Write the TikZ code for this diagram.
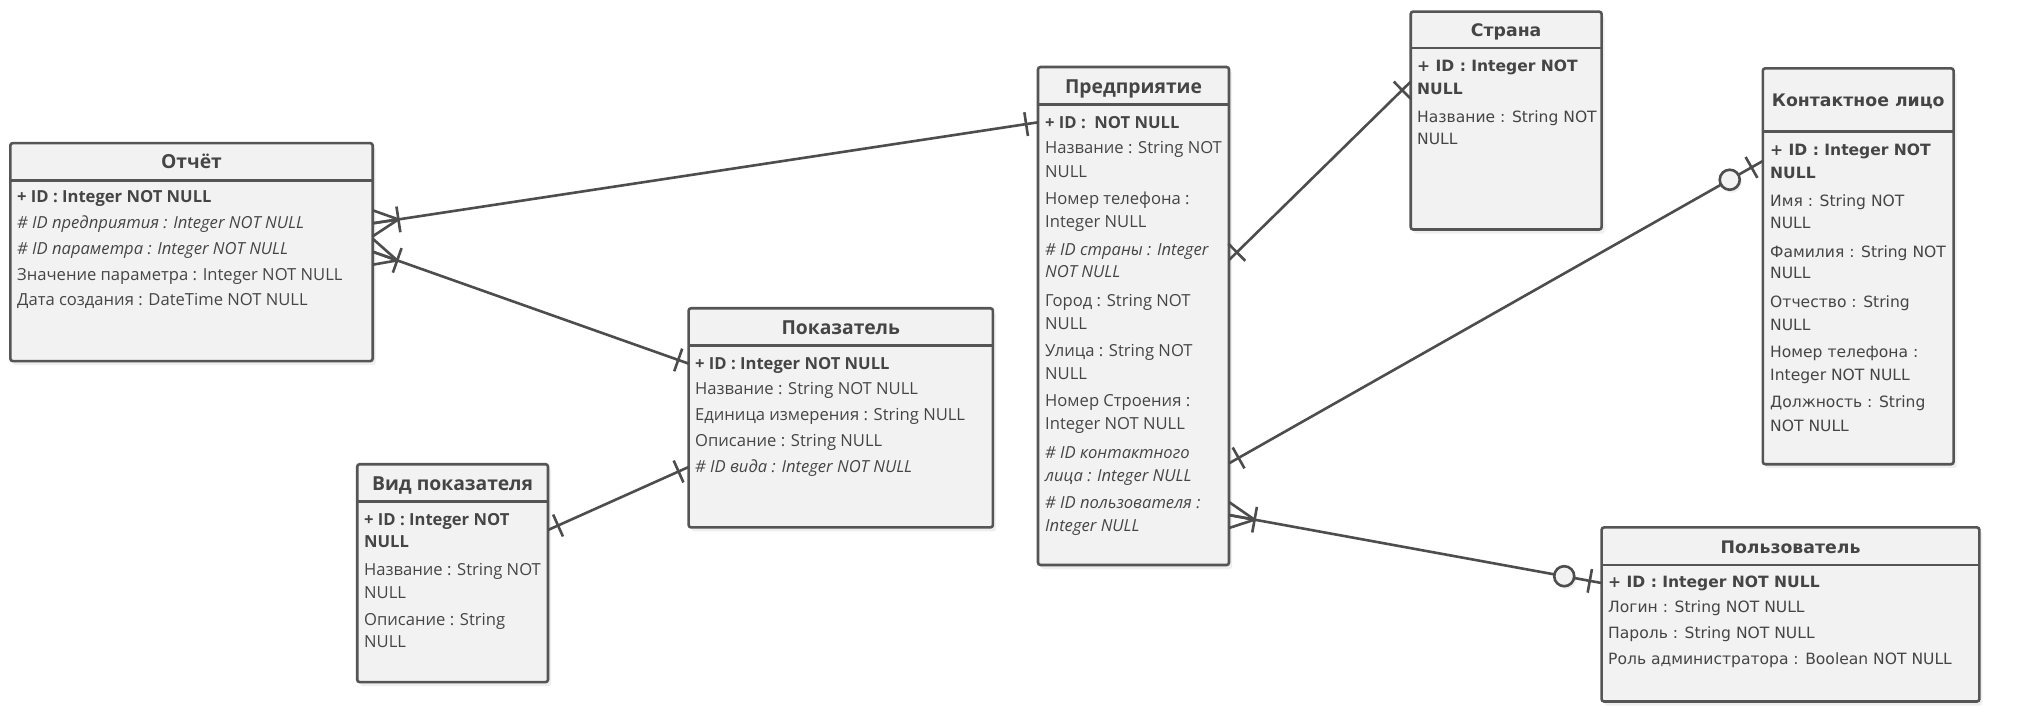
\documentclass[tikz,border=0pt]{standalone}
\usepackage{fontspec}
\setmainfont{Open Sans}
\newfontfamily\vfont{DejaVu Sans}
\usetikzlibrary{calc,shadows}
\definecolor{boxfill}{HTML}{F2F2F2}
\definecolor{boxline}{HTML}{555555}
\definecolor{txt}{HTML}{454545}
\definecolor{conncol}{HTML}{4D4D4D}
\tikzset{
  erbox/.style={draw=boxline, line width=2.6pt, fill=boxfill, rounded corners=2.5pt, rectangle,
    inner sep=0pt, outer sep=0pt, anchor=north west,
    drop shadow={shadow xshift=3pt, shadow yshift=-4pt, opacity=0.12}},
  sepline/.style={draw=boxline, line width=2.4pt},
  conn/.style={draw=conncol, line width=2.6pt},
  zcirc/.style={circle, draw=conncol, line width=2.6pt, fill=boxfill, minimum size=20pt, inner sep=0pt,
    drop shadow={shadow xshift=2pt, shadow yshift=-3pt, opacity=0.12}},
  ttl/.style={font=\fontsize{19.3}{21}\selectfont\bfseries, text=txt, inner sep=0pt, text height=16pt, text depth=2pt},
  row/.style={font=\fontsize{16.6}{18}\selectfont, text=txt, inner sep=0pt, anchor=west, text height=14pt, text depth=3pt},
  rowb/.style={row, font=\fontsize{16.6}{18}\selectfont\bfseries},
  rowi/.style={row, font=\fontsize{16.6}{18}\selectfont\itshape},
  vttl/.style={font=\vfont\fontsize{17.3}{19}\selectfont\bfseries, text=txt, inner sep=0pt, text height=15pt, text depth=2pt},
  vrow/.style={font=\vfont\fontsize{15.55}{17}\selectfont, text=txt, inner sep=0pt, anchor=west, text height=14pt, text depth=3pt},
  vrowb/.style={vrow, font=\vfont\fontsize{15.55}{17}\selectfont\bfseries},
}
\newcommand\erCrow[2]{%
  \coordinate (tmpF) at ($(#1)!26pt!(#2)$);
  \draw[conn] ($(#1)+(0,-13)$) -- (tmpF) -- ($(#1)+(0,13)$);
  \draw[conn] (#1) -- (tmpF);
  \draw[conn] ($(tmpF)!13pt!90:(#2)$) -- ($(tmpF)!13pt!-90:(#2)$);}
\newcommand\erBar[3]{%
  \coordinate (tmpB) at ($(#1)!#3!(#2)$);
  \draw[conn] ($(tmpB)!12pt!90:(#2)$) -- ($(tmpB)!12pt!-90:(#2)$);}
\begin{document}
\begin{tikzpicture}[x=1pt,y=-1pt]
\useasboundingbox[fill=white] (0,0) rectangle (2022,724);

% ---------- Отчёт
\node[erbox, minimum width=362.4pt, minimum height=218pt] (otchet) at (10.3,143.1) {};
\draw[sepline] ($(otchet.north west)+(0,37.4)$) -- ($(otchet.north east)+(0,37.4)$);
\node[ttl] (otchetT) at ($(otchet.north)+(0,18.7)$) {Отчёт};
\node[rowb] (o1) at (17,197.3) {+ ID : Integer NOT NULL};
\node[rowi] (o2) at (17,223.1) {\# ID предприятия : Integer NOT NULL};
\node[rowi] (o3) at (17,248.9) {\# ID параметра : Integer NOT NULL};
\node[row]  (o4) at (17,274.7) {Значение параметра : Integer NOT NULL};
\node[row]  (o5) at (17,300.4) {Дата создания : DateTime NOT NULL};

% ---------- Показатель
\node[erbox, minimum width=304.3pt, minimum height=219.2pt] (pokaz) at (688.6,308.2) {};
\draw[sepline] ($(pokaz.north west)+(0,37.4)$) -- ($(pokaz.north east)+(0,37.4)$);
\node[ttl] (pokazT) at ($(pokaz.north)+(0,19.2)$) {Показатель};
\node[rowb] (p1) at (695,363.6) {+ ID : Integer NOT NULL};
\node[row]  (p2) at (695,389.4) {Название : String NOT NULL};
\node[row]  (p3) at (695,415.2) {Единица измерения : String NULL};
\node[row]  (p4) at (695,441.0) {Описание : String NULL};
\node[rowi] (p5) at (695,466.8) {\# ID вида : Integer NOT NULL};

% ---------- Вид показателя
\node[erbox, minimum width=190.8pt, minimum height=217.9pt] (vid) at (357.2,464.2) {};
\draw[sepline] ($(vid.north west)+(0,37.4)$) -- ($(vid.north east)+(0,37.4)$);
\node[ttl] (vidT) at ($(vid.north)+(0,19.2)$) {Вид показателя};
\node[rowb] (v1) at (364,519.7) {+ ID : Integer NOT};
\node[rowb] (v2) at (364,541.6) {NULL};
\node[row]  (v3) at (364,570.0) {Название : String NOT};
\node[row]  (v4) at (364,593.2) {NULL};
\node[row]  (v5) at (364,620.2) {Описание : String};
\node[row]  (v6) at (364,642.2) {NULL};

% ---------- Предприятие
\node[erbox, minimum width=191pt, minimum height=498pt] (pred) at (1038,67) {};
\draw[sepline] ($(pred.north west)+(0,37.4)$) -- ($(pred.north east)+(0,37.4)$);
\node[ttl] (predT) at ($(pred.north)+(0,19.2)$) {Предприятие};
\node[rowb] (e1)  at (1045,122.5) {+ ID :\ \ NOT NULL};
\node[row]  (e2)  at (1045,148.3) {Название : String NOT};
\node[row]  (e3)  at (1045,171.5) {NULL};
\node[row]  (e4)  at (1045,198.6) {Номер телефона :};
\node[row]  (e5)  at (1045,221.8) {Integer NULL};
\node[rowi] (e6)  at (1045,250.2) {\# ID страны : Integer};
\node[rowi] (e7)  at (1045,272.1) {NOT NULL};
\node[row]  (e8)  at (1045,300.5) {Город : String NOT};
\node[row]  (e9)  at (1045,323.7) {NULL};
\node[row]  (e10) at (1045,350.7) {Улица : String NOT};
\node[row]  (e11) at (1045,374.0) {NULL};
\node[row]  (e12) at (1045,401.0) {Номер Строения :};
\node[row]  (e13) at (1045,424.2) {Integer NOT NULL};
\node[rowi] (e14) at (1045,452.6) {\# ID контактного};
\node[rowi] (e15) at (1045,475.8) {лица : Integer NULL};
\node[rowi] (e16) at (1045,502.9) {\# ID пользователя :};
\node[rowi] (e17) at (1045,526.1) {Integer NULL};

% ---------- Страна
\node[erbox, minimum width=190.9pt, minimum height=217.9pt] (strana) at (1410.7,11.6) {};
\draw[sepline] ($(strana.north west)+(0,36.1)$) -- ($(strana.north east)+(0,36.1)$);
\node[vttl] (stranaT) at ($(strana.north)+(0,18.3)$) {Страна};
\node[vrowb] (s1) at (1417,65.8) {+ ID : Integer NOT};
\node[vrowb] (s2) at (1417,89.0) {NULL};
\node[vrow]  (s3) at (1417,117.3) {Название : String NOT};
\node[vrow]  (s4) at (1417,139.3) {NULL};

% ---------- Контактное лицо
\node[erbox, minimum width=190.8pt, minimum height=395.9pt] (kont) at (1762.8,68.3) {};
\draw[sepline] ($(kont.north west)+(0,63.2)$) -- ($(kont.north east)+(0,63.2)$);
\node[vttl] (kontT) at ($(kont.north)+(0,31.3)$) {Контактное лицо};
\node[vrowb] (k1)  at (1770,149.6) {+ ID : Integer NOT};
\node[vrowb] (k2)  at (1770,172.8) {NULL};
\node[vrow]  (k3)  at (1770,201.2) {Имя : String NOT};
\node[vrow]  (k4)  at (1770,223.1) {NULL};
\node[vrow]  (k5)  at (1770,251.5) {Фамилия : String NOT};
\node[vrow]  (k6)  at (1770,273.4) {NULL};
\node[vrow]  (k7)  at (1770,301.7) {Отчество : String};
\node[vrow]  (k8)  at (1770,325.0) {NULL};
\node[vrow]  (k9)  at (1770,352.0) {Номер телефона :};
\node[vrow]  (k10) at (1770,375.2) {Integer NOT NULL};
\node[vrow]  (k11) at (1770,402.3) {Должность : String};
\node[vrow]  (k12) at (1770,425.5) {NOT NULL};

% ---------- Пользователь
\node[erbox, minimum width=377.8pt, minimum height=174.1pt] (polz) at (1601.6,527.4) {};
\draw[sepline] ($(polz.north west)+(0,37.4)$) -- ($(polz.north east)+(0,37.4)$);
\node[vttl] (polzT) at ($(polz.north)+(0,19.2)$) {Пользователь};
\node[vrowb] (u1) at (1608,581.6) {+ ID : Integer NOT NULL};
\node[vrow]  (u2) at (1608,607.4) {Логин : String NOT NULL};
\node[vrow]  (u3) at (1608,633.2) {Пароль : String NOT NULL};
\node[vrow]  (u4) at (1608,658.9) {Роль администратора : Boolean NOT NULL};

% ---------- connectors
% Отчёт -- Предприятие
\coordinate (c1s) at ($(otchet.north east)+(0,80.2)$);
\coordinate (c1t) at ($(pred.north west)+(0,55.3)$);
\draw[conn] (c1s) -- (c1t);
\erCrow{c1s}{c1t}
\erBar{c1t}{c1s}{12pt}
% Отчёт -- Показатель
\coordinate (c2s) at ($(otchet.north east)+(0,108.6)$);
\coordinate (c2t) at ($(pokaz.north west)+(0,55.4)$);
\draw[conn] (c2s) -- (c2t);
\erCrow{c2s}{c2t}
\erBar{c2t}{c2s}{11pt}
% Вид показателя -- Показатель
\coordinate (c3s) at ($(vid.north east)+(0,65.8)$);
\coordinate (c3t) at ($(pokaz.north west)+(0,158.8)$);
\draw[conn] (c3s) -- (c3t);
\erBar{c3s}{c3t}{11pt}
\erBar{c3t}{c3s}{11pt}
% Предприятие -- Страна
\coordinate (c4s) at ($(pred.north east)+(0,193)$);
\coordinate (c4t) at ($(strana.north west)+(0,70.1)$);
\draw[conn] (c4s) -- (c4t);
\erBar{c4s}{c4t}{11pt}
\erBar{c4t}{c4s}{12pt}
% Предприятие -- Контактное лицо
\coordinate (c5s) at ($(pred.north east)+(0,396.3)$);
\coordinate (c5t) at ($(kont.north west)+(0,92.7)$);
\draw[conn] (c5s) -- (c5t);
\erBar{c5s}{c5t}{11pt}
\erBar{c5t}{c5s}{13pt}
\node[zcirc] (c5o) at ($(c5t)!38pt!(c5s)$) {};
% Предприятие -- Пользователь
\coordinate (c6s) at ($(pred.north east)+(0,448)$);
\coordinate (c6t) at ($(polz.north west)+(0,55.6)$);
\draw[conn] (c6s) -- (c6t);
\erCrow{c6s}{c6t}
\erBar{c6t}{c6s}{12pt}
\node[zcirc] (c6o) at ($(c6t)!38pt!(c6s)$) {};
\end{tikzpicture}
\end{document}
